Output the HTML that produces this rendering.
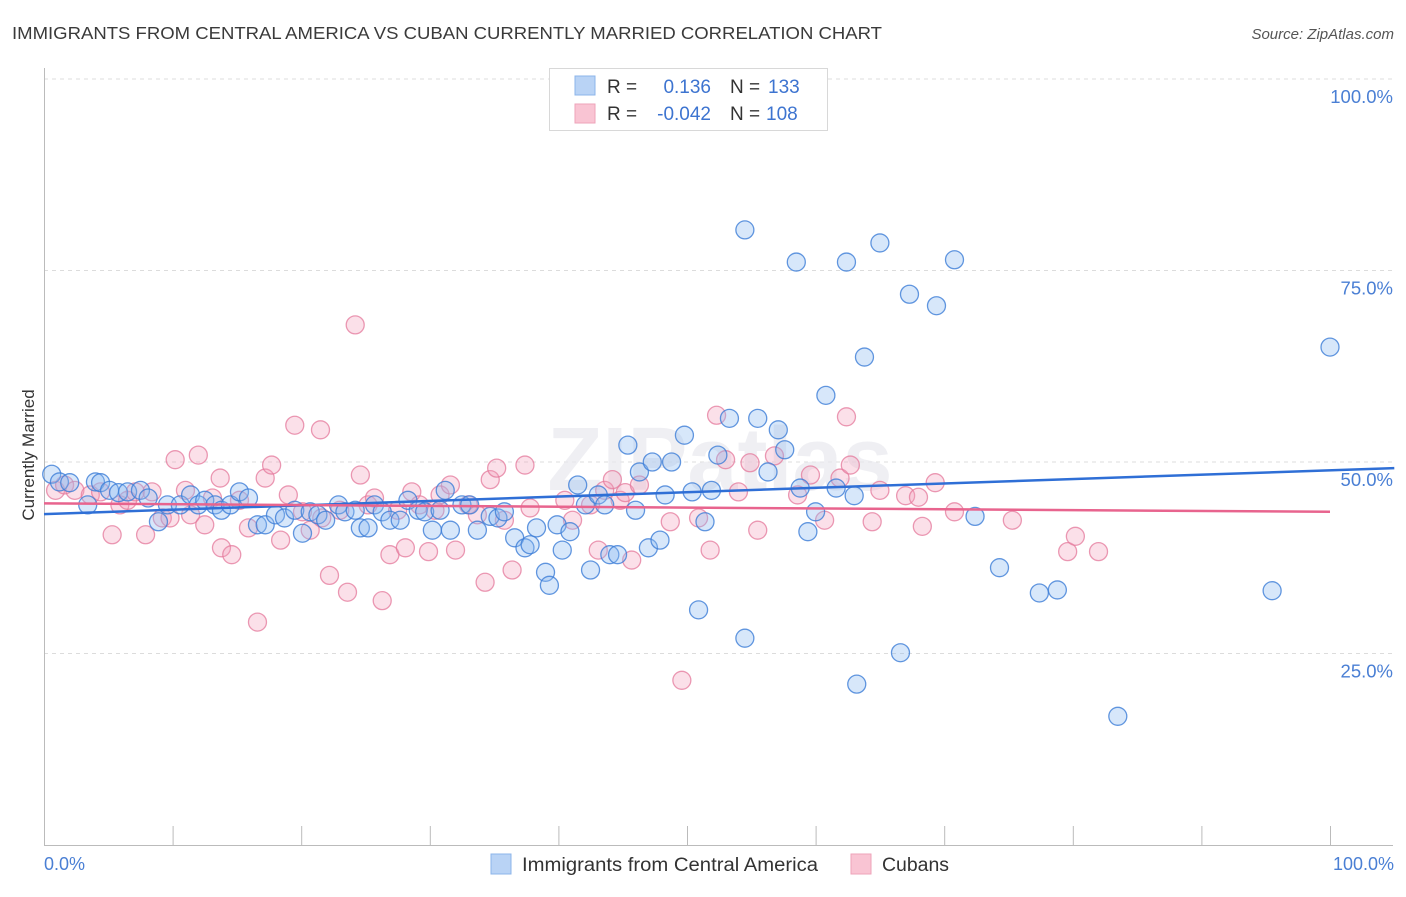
<!DOCTYPE html>
<html><head><meta charset="utf-8"><style>
body{margin:0;background:#fff;font-family:"Liberation Sans",sans-serif;}
svg text{font-family:"Liberation Sans",sans-serif;}
</style></head><body>
<svg id="chart" width="1406" height="892" viewBox="0 0 1406 892" xmlns="http://www.w3.org/2000/svg">
<text x="12" y="39" font-size="17.5" fill="#3a3a3a" textLength="870" lengthAdjust="spacingAndGlyphs">IMMIGRANTS FROM CENTRAL AMERICA VS CUBAN CURRENTLY MARRIED CORRELATION CHART</text>
<text x="1394" y="39" font-size="15" fill="#555" font-style="italic" text-anchor="end">Source: ZipAtlas.com</text>
<g id="grid"></g>
<text x="720" y="490" font-size="90" fill="#e9e9ef" font-weight="bold" text-anchor="middle" opacity="0.7">ZIPatlas</text>
<g id="pink"></g>
<g id="blue"></g>
<g id="lines"></g>
<text transform="translate(34,455) rotate(-90)" font-size="17" fill="#333" text-anchor="middle">Currently Married</text>
<text x="44" y="870" font-size="18" fill="#4a7fd4">0.0%</text>
<text x="1394" y="870" font-size="18" fill="#4a7fd4" text-anchor="end">100.0%</text>
<g>
<rect x="549.5" y="68.5" width="278" height="62" fill="#fff" stroke="#d8d8d8"/>
<rect x="575" y="76" width="20" height="19" fill="#b9d3f5" stroke="#8cb4ea"/>
<rect x="575" y="104" width="20" height="19" fill="#f9c4d3" stroke="#eea3ba"/>
<text x="607" y="93" font-size="19" fill="#333">R =</text>
<text x="711" y="93" font-size="19" fill="#3d74d0" text-anchor="end">0.136</text>
<text x="730" y="93" font-size="19" fill="#333">N =</text>
<text x="768" y="93" font-size="19" fill="#3d74d0">133</text>
<text x="607" y="120" font-size="19" fill="#333">R =</text>
<text x="711" y="120" font-size="19" fill="#3d74d0" text-anchor="end">-0.042</text>
<text x="730" y="120" font-size="19" fill="#333">N =</text>
<text x="766" y="120" font-size="19" fill="#3d74d0">108</text>
</g>
<g>
<rect x="491" y="854" width="20" height="20" fill="#b9d3f5" stroke="#8cb4ea"/>
<text x="522" y="871" font-size="19" fill="#333" textLength="296" lengthAdjust="spacingAndGlyphs">Immigrants from Central America</text>
<rect x="851" y="854" width="20" height="20" fill="#f9c4d3" stroke="#eea3ba"/>
<text x="882" y="871" font-size="19" fill="#333" textLength="67" lengthAdjust="spacingAndGlyphs">Cubans</text>
</g>
</svg>
<script>
const blueX=[0.6,1.2,2.0,3.4,4.0,4.4,5.1,5.8,6.5,7.5,8.1,8.9,9.6,10.6,11.4,12.0,12.5,13.3,13.8,14.5,15.2,15.9,16.6,17.2,18.0,18.7,19.5,20.1,20.7,21.3,21.9,22.9,23.4,24.2,24.6,25.2,25.7,26.3,26.9,27.7,28.3,29.1,29.6,30.2,30.8,31.2,31.6,32.5,33.1,33.7,34.7,35.3,35.8,36.6,37.4,37.8,38.3,39.0,39.3,39.9,40.3,40.9,41.5,42.1,42.5,43.1,43.6,44.0,44.6,45.4,46.0,46.3,47.0,47.3,47.9,48.3,48.8,49.8,50.4,50.9,51.4,51.9,52.4,53.3,54.5,54.5,55.5,56.3,57.1,57.6,58.5,58.8,59.4,60.0,60.8,61.6,62.4,63.0,63.2,63.8,65.0,66.6,67.3,69.4,70.8,72.4,74.3,77.4,78.8,83.5,95.5,100];
const blueY=[48.4,47.4,47.3,44.4,47.4,47.3,46.3,46.0,46.1,46.3,45.3,42.2,44.4,44.4,45.7,44.4,45.0,44.4,43.7,44.4,46.1,45.3,41.8,41.8,43.1,42.7,43.7,40.7,43.5,43.1,42.4,44.4,43.5,43.7,41.4,41.4,44.4,43.5,42.4,42.4,45.0,43.7,43.5,41.1,43.7,46.3,41.1,44.4,44.4,41.1,42.9,42.7,43.5,40.1,38.8,39.2,41.4,35.6,33.9,41.8,38.5,40.9,47.0,44.4,35.9,45.7,44.4,37.9,37.9,52.2,43.7,48.7,38.8,50.0,39.8,45.7,50.0,53.5,46.1,30.7,42.2,46.3,50.9,55.7,80.3,27.0,55.7,48.7,54.2,51.6,76.1,46.6,40.9,43.5,58.7,46.6,76.1,45.6,21.0,63.7,78.6,25.1,71.9,70.4,76.4,42.9,36.2,32.9,33.3,16.8,33.2,65.0];
const pinkX=[0.9,1.6,2.4,3.6,4.4,5.3,5.9,6.5,7.1,7.9,8.4,9.2,9.8,10.2,11.0,11.4,12.0,12.5,13.1,13.7,13.8,14.6,15.2,15.9,16.6,17.2,17.7,18.4,19.0,19.5,20.1,20.7,21.5,21.6,22.2,23.0,23.6,24.2,24.6,25.2,25.7,26.3,26.9,27.5,28.1,28.6,29.2,29.9,30.4,30.8,31.6,32.0,33.0,33.7,34.3,34.7,35.2,35.8,36.4,37.4,37.8,40.5,41.1,42.5,43.1,43.6,44.2,44.8,45.2,45.7,46.3,48.7,49.6,50.9,51.8,52.3,53.0,54.0,54.9,55.5,56.8,58.6,59.6,60.7,61.9,62.4,62.7,64.4,65.0,67.0,68.0,68.3,69.3,70.8,75.3,79.6,80.2,82.0];
const pinkY=[46.3,47.0,46.3,45.7,46.1,40.5,44.4,45.0,46.1,40.5,46.1,42.7,42.7,50.3,46.3,43.1,50.9,41.8,45.3,47.9,38.8,37.9,45.0,41.4,29.1,47.9,49.6,39.8,45.7,54.8,43.5,41.1,54.2,42.7,35.2,43.7,33.0,67.9,48.3,44.4,45.3,31.9,37.9,43.7,38.8,46.1,44.4,38.3,43.7,45.7,47.0,38.5,44.4,43.1,34.3,47.7,49.2,42.4,35.9,49.6,44.0,45.0,42.4,44.4,38.5,46.3,47.7,45.0,46.0,37.2,47.0,42.2,21.5,42.7,38.5,56.1,50.3,46.1,49.9,41.1,50.8,45.7,48.3,42.4,47.9,55.9,49.6,42.2,46.3,45.6,45.4,41.6,47.3,43.5,42.4,38.3,40.3,38.3];
const yTicks=[100,75,50,25];
const yTickLabels=["100.0%","75.0%","50.0%","25.0%"];
const xTicks=[0,10,20,30,40,50,60,70,80,90,100];
const blueTrend=[[0,43.2],[105,49.2]];
const pinkTrend=[[0,44.6],[100,43.5]];
const NS="http://www.w3.org/2000/svg";
const xs=v=>44+v*12.86, ys=v=>845-v*7.66;
function mk(tag,attrs,parent){const e=document.createElementNS(NS,tag);for(const k in attrs)e.setAttribute(k,attrs[k]);parent.appendChild(e);return e;}
const grid=document.getElementById('grid');
yTicks.forEach((t,i)=>{
 const l=mk('line',{x1:44,x2:1393,y1:ys(t),y2:ys(t),stroke:'#dcdcdc','stroke-dasharray':'4,4'},grid);
 
 
 const tx=mk('text',{x:1393,y:ys(t)+24,'font-size':18.5,fill:'#4a7fd4','text-anchor':'end'},grid);
 tx.textContent=yTickLabels[i];
 
 
});
const ya=mk('line',{x1:44.5,x2:44.5,y1:68,y2:845,stroke:'#bbb'},grid);


const xa=mk('line',{x1:44,x2:1393,y1:845.5,y2:845.5,stroke:'#bbb'},grid);


xTicks.forEach(t=>{
 const l=mk('line',{x1:xs(t)+0.5,x2:xs(t)+0.5,y1:826,y2:845,stroke:'#bbb'},grid);
 
 
});
function pts(X,Y,g,fill,stroke,name){
 X.forEach((x,i)=>{
  const c=mk('circle',{cx:xs(x),cy:ys(Y[i]),r:9,fill:fill,stroke:stroke,'stroke-width':1.3},g);
  
  
 });
}
pts(pinkX,pinkY,document.getElementById('pink'),'rgba(244,160,188,0.32)','rgba(228,120,155,0.75)','cuban-point');
pts(blueX,blueY,document.getElementById('blue'),'rgba(140,185,240,0.35)','rgba(60,125,215,0.8)','central-america-point');
const lg=document.getElementById('lines');
const bl=mk('line',{x1:xs(blueTrend[0][0]),y1:ys(blueTrend[0][1]),x2:xs(blueTrend[1][0]),y2:ys(blueTrend[1][1]),stroke:'#2f6fd6','stroke-width':2.5},lg);


const pl=mk('line',{x1:xs(pinkTrend[0][0]),y1:ys(pinkTrend[0][1]),x2:xs(pinkTrend[1][0]),y2:ys(pinkTrend[1][1]),stroke:'#e8648e','stroke-width':2.5},lg);


</script>
</body></html>
